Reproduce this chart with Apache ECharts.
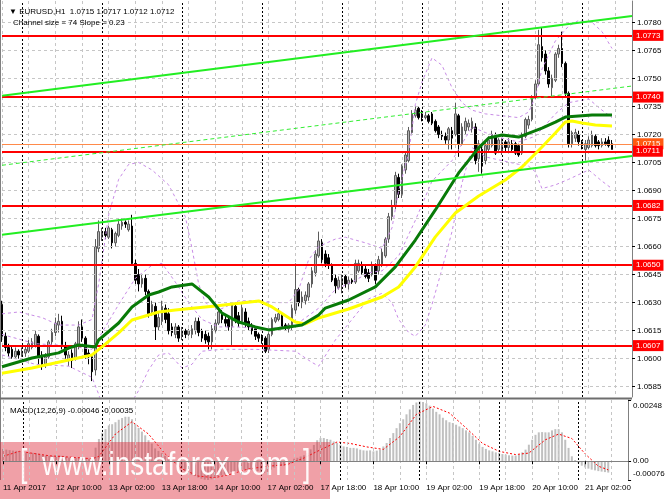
<!DOCTYPE html>
<html>
<head>
<meta charset="utf-8">
<title>EURUSD,H1</title>
<script src="https://cdn.jsdelivr.net/npm/echarts@6/dist/echarts.min.js"></script>
<style>
	html, body {
		margin: 0;
		padding: 0;
		background: #fff;
	}

	#chart {
		width: 665px;
		height: 499px;
	}
</style>
</head>

<body>
	<div id="chart"></div>
<script>
	// H1 bars from 11 Apr 18:00 to 21 Apr 09:00 (weekend skipped)
	var opens = [
		1.0629, 1.0612, 1.0606, 1.0605, 1.0601, 1.0604, 1.0602, 1.0603, 1.0604, 1.0606,
		1.0607, 1.0612, 1.0602, 1.0597, 1.0601, 1.0609, 1.0614, 1.0618, 1.0620, 1.0607,
		1.0600, 1.0603, 1.0600, 1.0607, 1.0617, 1.0611, 1.0603, 1.0601, 1.0594, 1.0659,
		1.0665, 1.0668, 1.0665, 1.0669, 1.0662, 1.0666, 1.0671, 1.0673, 1.0669, 1.0671,
		1.0651, 1.0645, 1.0640, 1.0643, 1.0636, 1.0625, 1.0628, 1.0617, 1.0620, 1.0627,
		1.0624, 1.0617, 1.0613, 1.0617, 1.0612, 1.0615, 1.0613, 1.0613, 1.0615, 1.0620,
		1.0615, 1.0613, 1.0612, 1.0609, 1.0615, 1.0619, 1.0624, 1.0621, 1.0621, 1.0617,
		1.0628, 1.0623, 1.0620, 1.0625, 1.0620, 1.0618, 1.0616, 1.0613, 1.0612, 1.0611,
		1.0605, 1.0613, 1.0620, 1.0621, 1.0623, 1.0618, 1.0616, 1.0617, 1.0626, 1.0637,
		1.0630, 1.0631, 1.0633, 1.0640, 1.0646, 1.0655, 1.0662, 1.0656, 1.0654, 1.0650,
		1.0643, 1.0638, 1.0640, 1.0644, 1.0640, 1.0642, 1.0641, 1.0647, 1.0650, 1.0648,
		1.0646, 1.0645, 1.0650, 1.0647, 1.0650, 1.0655, 1.0664, 1.0676, 1.0682, 1.0697,
		1.0688, 1.0701, 1.0706, 1.0721, 1.0730, 1.0734, 1.0731, 1.0729, 1.0730, 1.0731,
		1.0727, 1.0724, 1.0720, 1.0719, 1.0717, 1.0722, 1.0720, 1.0730, 1.0715, 1.0722,
		1.0724, 1.0723, 1.0724, 1.0707, 1.0712, 1.0706, 1.0712, 1.0714, 1.0719, 1.0712,
		1.0711, 1.0716, 1.0713, 1.0715, 1.0715, 1.0714, 1.0710, 1.0719, 1.0725, 1.0728,
		1.0740, 1.0747, 1.0767, 1.0763, 1.0754, 1.0745, 1.0749, 1.0763, 1.0766, 1.0758,
		1.0742, 1.0715, 1.0718, 1.0720, 1.0716, 1.0712, 1.0713, 1.0714, 1.0719, 1.0716,
		1.0714, 1.0716, 1.0717, 1.0715
	];
	var highs = [
		1.0631, 1.0614, 1.0608, 1.0607, 1.0606, 1.0605, 1.0606, 1.0607, 1.0610, 1.0611,
		1.0615, 1.0613, 1.0604, 1.0603, 1.0610, 1.0616, 1.0622, 1.0624, 1.0623, 1.0609,
		1.0604, 1.0605, 1.0609, 1.0620, 1.0621, 1.0612, 1.0605, 1.0602, 1.0664, 1.0674,
		1.0670, 1.0670, 1.0671, 1.0670, 1.0668, 1.0675, 1.0675, 1.0674, 1.0674, 1.0677,
		1.0653, 1.0648, 1.0645, 1.0645, 1.0637, 1.0631, 1.0630, 1.0625, 1.0631, 1.0629,
		1.0627, 1.0619, 1.0619, 1.0618, 1.0617, 1.0616, 1.0616, 1.0618, 1.0622, 1.0622,
		1.0616, 1.0615, 1.0614, 1.0618, 1.0621, 1.0628, 1.0626, 1.0623, 1.0622, 1.0630,
		1.0630, 1.0625, 1.0629, 1.0627, 1.0622, 1.0619, 1.0617, 1.0614, 1.0613, 1.0612,
		1.0614, 1.0622, 1.0624, 1.0627, 1.0624, 1.0619, 1.0619, 1.0629, 1.0651, 1.0638,
		1.0636, 1.0636, 1.0641, 1.0649, 1.0658, 1.0668, 1.0664, 1.0658, 1.0656, 1.0651,
		1.0645, 1.0644, 1.0645, 1.0645, 1.0644, 1.0643, 1.0653, 1.0653, 1.0652, 1.0650,
		1.0648, 1.0652, 1.0651, 1.0655, 1.0659, 1.0665, 1.0678, 1.0685, 1.0700, 1.0699,
		1.0704, 1.0711, 1.0724, 1.0733, 1.0735, 1.0735, 1.0733, 1.0732, 1.0731, 1.0732,
		1.0728, 1.0725, 1.0722, 1.0721, 1.0724, 1.0724, 1.0737, 1.0731, 1.0726, 1.0729,
		1.0728, 1.0729, 1.0726, 1.0717, 1.0714, 1.0716, 1.0719, 1.0722, 1.0721, 1.0718,
		1.0718, 1.0717, 1.0718, 1.0717, 1.0716, 1.0715, 1.0721, 1.0729, 1.0730, 1.0741,
		1.0749, 1.0776, 1.0777, 1.0765, 1.0756, 1.0752, 1.0764, 1.0768, 1.0775, 1.0759,
		1.0743, 1.0722, 1.0723, 1.0722, 1.0717, 1.0717, 1.0719, 1.0722, 1.0720, 1.0717,
		1.0718, 1.0718, 1.0719, 1.0717
	];
	var lows = [
		1.0609, 1.0604, 1.0601, 1.0600, 1.0600, 1.0600, 1.0601, 1.0601, 1.0603, 1.0605,
		1.0606, 1.0597, 1.0594, 1.0595, 1.0600, 1.0607, 1.0612, 1.0614, 1.0605, 1.0600,
		1.0596, 1.0595, 1.0599, 1.0605, 1.0609, 1.0600, 1.0597, 1.0588, 1.0591, 1.0657,
		1.0663, 1.0664, 1.0664, 1.0659, 1.0660, 1.0665, 1.0669, 1.0670, 1.0668, 1.0650,
		1.0640, 1.0636, 1.0638, 1.0634, 1.0622, 1.0623, 1.0610, 1.0615, 1.0618, 1.0619,
		1.0613, 1.0612, 1.0611, 1.0609, 1.0610, 1.0611, 1.0612, 1.0611, 1.0613, 1.0612,
		1.0609, 1.0608, 1.0605, 1.0605, 1.0614, 1.0618, 1.0619, 1.0617, 1.0615, 1.0607,
		1.0619, 1.0617, 1.0619, 1.0617, 1.0615, 1.0613, 1.0610, 1.0609, 1.0608, 1.0603,
		1.0603, 1.0612, 1.0619, 1.0620, 1.0616, 1.0615, 1.0614, 1.0615, 1.0624, 1.0628,
		1.0627, 1.0629, 1.0631, 1.0638, 1.0644, 1.0654, 1.0651, 1.0649, 1.0648, 1.0641,
		1.0635, 1.0637, 1.0635, 1.0638, 1.0637, 1.0640, 1.0640, 1.0646, 1.0645, 1.0643,
		1.0641, 1.0644, 1.0640, 1.0645, 1.0649, 1.0654, 1.0662, 1.0674, 1.0680, 1.0686,
		1.0686, 1.0699, 1.0705, 1.0720, 1.0729, 1.0728, 1.0727, 1.0728, 1.0726, 1.0725,
		1.0721, 1.0718, 1.0717, 1.0715, 1.0712, 1.0712, 1.0719, 1.0708, 1.0714, 1.0720,
		1.0722, 1.0721, 1.0704, 1.0700, 1.0699, 1.0704, 1.0711, 1.0713, 1.0709, 1.0710,
		1.0709, 1.0711, 1.0711, 1.0711, 1.0709, 1.0708, 1.0709, 1.0718, 1.0723, 1.0727,
		1.0739, 1.0746, 1.0759, 1.0752, 1.0745, 1.0740, 1.0748, 1.0761, 1.0756, 1.0740,
		1.0713, 1.0713, 1.0716, 1.0714, 1.0712, 1.0706, 1.0712, 1.0713, 1.0713, 1.0712,
		1.0713, 1.0714, 1.0713, 1.0712
	];
	var closes = [
		1.0612, 1.0606, 1.0603, 1.0601, 1.0604, 1.0602, 1.0604, 1.0605, 1.0608, 1.0609,
		1.0613, 1.0601, 1.0597, 1.0601, 1.0609, 1.0614, 1.0619, 1.0620, 1.0607, 1.0602,
		1.0602, 1.0599, 1.0608, 1.0617, 1.0611, 1.0602, 1.0601, 1.0593, 1.0660, 1.0668,
		1.0668, 1.0666, 1.0670, 1.0662, 1.0667, 1.0672, 1.0673, 1.0672, 1.0672, 1.0651,
		1.0642, 1.0640, 1.0643, 1.0636, 1.0624, 1.0629, 1.0617, 1.0622, 1.0628, 1.0621,
		1.0615, 1.0614, 1.0617, 1.0611, 1.0615, 1.0613, 1.0615, 1.0616, 1.0620, 1.0614,
		1.0611, 1.0610, 1.0609, 1.0616, 1.0619, 1.0625, 1.0621, 1.0619, 1.0617, 1.0629,
		1.0621, 1.0619, 1.0627, 1.0619, 1.0617, 1.0615, 1.0612, 1.0611, 1.0610, 1.0604,
		1.0613, 1.0621, 1.0622, 1.0624, 1.0617, 1.0617, 1.0618, 1.0627, 1.0637, 1.0630,
		1.0633, 1.0634, 1.0640, 1.0647, 1.0656, 1.0663, 1.0653, 1.0651, 1.0650, 1.0642,
		1.0639, 1.0642, 1.0643, 1.0640, 1.0642, 1.0641, 1.0651, 1.0651, 1.0646, 1.0644,
		1.0643, 1.0650, 1.0642, 1.0653, 1.0657, 1.0664, 1.0676, 1.0682, 1.0698, 1.0688,
		1.0703, 1.0709, 1.0722, 1.0731, 1.0733, 1.0729, 1.0729, 1.0730, 1.0727, 1.0726,
		1.0722, 1.0720, 1.0719, 1.0717, 1.0723, 1.0718, 1.0731, 1.0715, 1.0724, 1.0727,
		1.0726, 1.0727, 1.0706, 1.0715, 1.0703, 1.0714, 1.0717, 1.0720, 1.0710, 1.0717,
		1.0716, 1.0713, 1.0716, 1.0712, 1.0710, 1.0709, 1.0720, 1.0728, 1.0728, 1.0740,
		1.0747, 1.0768, 1.0761, 1.0754, 1.0747, 1.0750, 1.0763, 1.0766, 1.0758, 1.0742,
		1.0715, 1.0721, 1.0721, 1.0716, 1.0714, 1.0715, 1.0717, 1.0720, 1.0714, 1.0714,
		1.0716, 1.0715, 1.0714, 1.0712
	];

	// moving averages, read at a few bars
	var greenAt = [0, 9, 17, 20, 23, 28, 29, 35, 39, 44, 47, 51, 57, 62, 66, 71, 76, 80, 84, 90, 95, 97, 104, 112, 118, 124, 130, 137, 143, 146, 150, 155, 162, 166, 169, 177, 183];
	var greenMa = [1.05957, 1.06004, 1.06031, 1.06057, 1.06073, 1.06063, 1.06100, 1.06191, 1.06277, 1.06341, 1.06357, 1.06384, 1.06400, 1.06330, 1.06244, 1.06196, 1.06170, 1.06154, 1.06164, 1.06180, 1.06234, 1.06271, 1.06314, 1.06384, 1.06491, 1.06635, 1.06796, 1.06994, 1.07128, 1.07181, 1.07197, 1.07186, 1.07234, 1.07266, 1.07293, 1.07304, 1.07304];
	var yellowAt = [0, 9, 20, 27, 30, 35, 39, 44, 47, 52, 64, 77, 81, 88, 91, 95, 104, 114, 119, 124, 130, 136, 143, 151, 156, 162, 166, 169, 171, 174, 178, 183];
	var yellowMa = [1.05922, 1.05950, 1.05993, 1.06020, 1.06063, 1.06138, 1.06207, 1.06234, 1.06250, 1.06261, 1.06282, 1.06309, 1.06277, 1.06196, 1.06186, 1.06218, 1.06266, 1.06330, 1.06384, 1.06491, 1.06652, 1.06780, 1.06871, 1.06956, 1.07026, 1.07133, 1.07208, 1.07266, 1.07272, 1.07261, 1.07250, 1.07245];

	// bollinger bands
	var upperAt = [0, 5, 12, 17, 23, 27, 28, 29, 32, 35, 38, 41, 45, 50, 55, 57, 59, 61, 65, 71, 77, 82, 86, 89, 92, 95, 100, 103, 109, 114, 117, 119, 122, 124, 126, 129, 132, 135, 138, 141, 145, 150, 155, 158, 160, 162, 166, 170, 173, 177, 180, 183];
	var upperBand = [1.0624, 1.0625, 1.0622, 1.0618, 1.0618, 1.0621, 1.0631, 1.0640, 1.0677, 1.0696, 1.0704, 1.0705, 1.0701, 1.0693, 1.0676, 1.0659, 1.0640, 1.0630, 1.0626, 1.0631, 1.0631, 1.0630, 1.0630, 1.0637, 1.0653, 1.0660, 1.0664, 1.0665, 1.0662, 1.0659, 1.0670, 1.0690, 1.0710, 1.0736, 1.0748, 1.0761, 1.0757, 1.0745, 1.0737, 1.0733, 1.0731, 1.0730, 1.0729, 1.0732, 1.0740, 1.0755, 1.0770, 1.0778, 1.0781, 1.0780, 1.0775, 1.0766];
	var midAt = [0, 10, 20, 27, 30, 35, 40, 45, 48, 52, 56, 60, 65, 70, 80, 88, 95, 100, 105, 110, 114, 119, 124, 129, 135, 138, 141, 145, 150, 155, 160, 162, 166, 170, 176, 180, 183];
	var midBand = [1.0613, 1.0608, 1.0607, 1.0605, 1.0614, 1.0629, 1.0643, 1.0650, 1.0651, 1.0641, 1.0630, 1.0621, 1.0617, 1.0617, 1.0616, 1.0618, 1.0627, 1.0637, 1.0641, 1.0646, 1.0647, 1.0655, 1.0674, 1.0695, 1.0706, 1.0715, 1.0724, 1.0721, 1.0718, 1.0716, 1.0719, 1.0723, 1.0731, 1.0737, 1.0739, 1.0733, 1.0729];
	var lowerAt = [0, 10, 20, 27, 29, 32, 35, 38, 41, 44, 47, 50, 54, 57, 60, 66, 76, 88, 93, 95, 100, 105, 110, 114, 117, 119, 122, 124, 127, 129, 132, 135, 138, 141, 145, 150, 155, 158, 160, 162, 166, 170, 176, 180, 183];
	var lowerBand = [1.0602, 1.0597, 1.0596, 1.0590, 1.0581, 1.0563, 1.0562, 1.0574, 1.0583, 1.0594, 1.0602, 1.0603, 1.0595, 1.0597, 1.0604, 1.0605, 1.0605, 1.0604, 1.0598, 1.0596, 1.0610, 1.0621, 1.0632, 1.0635, 1.0630, 1.0621, 1.0614, 1.0612, 1.0618, 1.0629, 1.0648, 1.0668, 1.0694, 1.0713, 1.0708, 1.0706, 1.0704, 1.0703, 1.0700, 1.0691, 1.0693, 1.0696, 1.0701, 1.0695, 1.0691];

	// regression channel, first and last slot
	var channelAt = [0, 189];
	var chanUpper = [1.07407, 1.07834];
	var chanMid = [1.07035, 1.07459];
	var chanLower = [1.06663, 1.07085];

	// horizontal levels
	var redLevels = [1.0773, 1.0740, 1.0682, 1.0650, 1.0607];
	var bidLevel = 1.0715;
	var lowLevel = 1.0711;

	// MACD(12,26,9)
	var macd = [
		0.00050, 0.00047, 0.00045, 0.00043, 0.00042, 0.00040, 0.00038, 0.00036, 0.00035, 0.00034,
		0.00033, 0.00030, 0.00026, 0.00023, 0.00022, 0.00022, 0.00023, 0.00024, 0.00022, 0.00018,
		0.00015, 0.00013, 0.00013, 0.00016, 0.00016, 0.00013, 0.00010, 0.00006, 0.00055, 0.00090,
		0.00115, 0.00130, 0.00145, 0.00150, 0.00158, 0.00168, 0.00175, 0.00180, 0.00180, 0.00170,
		0.00152, 0.00135, 0.00120, 0.00105, 0.00085, 0.00072, 0.00052, 0.00042, 0.00033, 0.00022,
		0.00010, 0.00000, -0.00008, -0.00020, -0.00030, -0.00040, -0.00048, -0.00055, -0.00060, -0.00066,
		-0.00071, -0.00075, -0.00076, -0.00073, -0.00068, -0.00061, -0.00057, -0.00054, -0.00052, -0.00043,
		-0.00041, -0.00040, -0.00034, -0.00034, -0.00035, -0.00036, -0.00038, -0.00040, -0.00042, -0.00048,
		-0.00043, -0.00034, -0.00026, -0.00019, -0.00019, -0.00019, -0.00017, -0.00008, 0.00010, 0.00014,
		0.00019, 0.00024, 0.00034, 0.00048, 0.00066, 0.00085, 0.00094, 0.00094, 0.00090, 0.00087,
		0.00080, 0.00074, 0.00067, 0.00060, 0.00058, 0.00054, 0.00054, 0.00052, 0.00047, 0.00044,
		0.00043, 0.00044, 0.00040, 0.00043, 0.00047, 0.00060, 0.00074, 0.00094, 0.00114, 0.00134,
		0.00154, 0.00170, 0.00190, 0.00210, 0.00228, 0.00238, 0.00242, 0.00240, 0.00235, 0.00225,
		0.00213, 0.00200, 0.00190, 0.00176, 0.00166, 0.00158, 0.00155, 0.00148, 0.00141, 0.00134,
		0.00125, 0.00117, 0.00103, 0.00087, 0.00071, 0.00058, 0.00050, 0.00044, 0.00040, 0.00036,
		0.00034, 0.00029, 0.00027, 0.00024, 0.00023, 0.00023, 0.00027, 0.00036, 0.00047, 0.00067,
		0.00087, 0.00107, 0.00117, 0.00118, 0.00117, 0.00117, 0.00125, 0.00130, 0.00130, 0.00117,
		0.00087, 0.00054, 0.00020, 0.00005, -0.00008, -0.00018, -0.00025, -0.00030, -0.00034, -0.00037,
		-0.00040, -0.00042, -0.00044, -0.00046
	];
	var signalAt = [0, 5, 14, 22, 27, 29, 34, 39, 44, 49, 54, 59, 64, 69, 74, 79, 86, 91, 95, 101, 105, 110, 115, 120, 125, 130, 135, 140, 145, 150, 155, 159, 164, 168, 172, 176, 180, 183];
	var signal = [0.00020, 0.00040, 0.00022, 0.00015, 0.00010, 0.00020, 0.00110, 0.00160, 0.00110, 0.00030, -0.00030, -0.00060, -0.00067, -0.00052, -0.00032, -0.00022, -0.00013, 0.00013, 0.00040, 0.00078, 0.00072, 0.00058, 0.00048, 0.00100, 0.00190, 0.00222, 0.00195, 0.00135, 0.00072, 0.00040, 0.00027, 0.00033, 0.00087, 0.00110, 0.00092, 0.00030, -0.00020, -0.00035];

	// axis ticks
	var priceTicks = [1.0585, 1.0600, 1.0615, 1.0630, 1.0645, 1.0660, 1.0675, 1.0690, 1.0705, 1.0720, 1.0735, 1.0750, 1.0765, 1.0780];
	var macdTicks = [-0.00076, 0, 0.00248];
	var timeLabels = ['11 Apr 2017', '12 Apr 10:00', '13 Apr 02:00', '13 Apr 18:00', '14 Apr 10:00', '17 Apr 02:00', '17 Apr 18:00', '18 Apr 10:00', '19 Apr 02:00', '19 Apr 18:00', '20 Apr 10:00', '21 Apr 02:00'];
	var daySeps = [6, 30, 54, 78, 102, 126, 150, 174];

	var slots = [];
	for (var i = 0; i < 190; i++) slots.push(i);

	var candles = opens.map(function (o, i) {
		return [o, closes[i], lows[i], highs[i]];
	});

	function pairs(at, vals) {
		return at.map(function (x, k) { return [x, vals[k]]; });
	}
	function every(n) {
		return function (idx) { return idx % n === 0; };
	}

	var font = '"Liberation Sans", Arial, sans-serif';
	var small = { fontFamily: font, fontSize: 8, color: '#000' };
	var gridDash = { color: '#c6c6c6', type: [3, 3], width: 1 };
	var sepDash = { color: '#000', type: [2, 2], width: 1 };
	var headStyle = { fontFamily: font, fontSize: 8, fontWeight: 'normal', color: '#000' };

	var chart = echarts.init(document.getElementById('chart'));
	var option = {
		animation: false,
		backgroundColor: '#fff',
		title: [
			{ text: '\u25BC EURUSD,H1  1.0715 1.0717 1.0712 1.0712', left: 4, top: 3, textStyle: headStyle },
			{ text: 'Channel size = 74 Slope = 0.23', left: 8, top: 14, textStyle: headStyle },
			{ text: 'MACD(12,26,9) -0.00046 -0.00035', left: 5, top: 402, textStyle: headStyle },
			// lowest value of the MACD scale, sits just above the pane bottom
			{ text: macdTicks[0].toFixed(5), left: 633, top: 470, padding: 0, textStyle: headStyle }
		],
		grid: [
			{ left: 2, right: 33, top: 1, height: 396 },
			{ left: 2, right: 33, top: 400, height: 80 }
		],
		xAxis: [
			{
				type: 'category', gridIndex: 0, data: slots, boundaryGap: false,
				axisLine: { show: false }, axisTick: { show: false }, axisLabel: { show: false },
				splitLine: { show: true, interval: every(8), lineStyle: gridDash }
			},
			{
				type: 'category', gridIndex: 1, data: slots, boundaryGap: false, z: 120,
				axisLine: { show: true, lineStyle: { color: '#808080' } },
				axisTick: { show: true, interval: every(16), length: 3, lineStyle: { color: '#000' } },
				axisLabel: Object.assign({
					interval: every(16), align: 'left', margin: 4,
					formatter: function (v, idx) { return timeLabels[idx / 16] || ''; }
				}, small),
				splitLine: { show: true, interval: every(8), lineStyle: gridDash }
			}
		],
		yAxis: [
			{
				type: 'value', gridIndex: 0, position: 'right', min: 1.05795, max: 1.07914,
				splitLine: { show: false },
				axisLine: { show: true, lineStyle: { color: '#808080' } },
				axisTick: { show: true, customValues: priceTicks, length: 3, lineStyle: { color: '#000' } },
				axisLabel: Object.assign({
					customValues: priceTicks, margin: 5,
					formatter: function (v) { return v.toFixed(4); }
				}, small)
			},
			{
				type: 'value', gridIndex: 1, position: 'right', min: macdTicks[0], max: macdTicks[2],
				splitLine: { show: false },
				axisLine: { show: true, lineStyle: { color: '#808080' } },
				axisTick: { show: true, customValues: macdTicks, length: 3, lineStyle: { color: '#000' } },
				axisLabel: Object.assign({
					customValues: macdTicks.slice(1), margin: 2,
					formatter: function (v) {
						if (v > 0.001) return '{t|' + v.toFixed(5) + '}';
						return '{z|0.00}';
					},
					rich: {
						t: { fontFamily: font, fontSize: 8, color: '#000', padding: [11, 0, 0, 3] },
						z: { fontFamily: font, fontSize: 8, color: '#000', padding: [0, 0, 0, 3] }
					}
				}, small)
			}
		],
		series: [
			{
				// grid lines and day separators, main pane
				type: 'line', xAxisIndex: 0, yAxisIndex: 0, data: [], z: 1, silent: true,
				markLine: {
					symbol: ['none', 'none'], silent: true, precision: 5, label: { show: false },
					lineStyle: gridDash,
					data: priceTicks.map(function (v) { return { yAxis: v }; })
						.concat(daySeps.map(function (d) { return { xAxis: d, lineStyle: sepDash }; }))
				}
			},
			{
				type: 'candlestick', xAxisIndex: 0, yAxisIndex: 0, data: candles, z: 3,
				barWidth: 2,
				itemStyle: {
					color: '#b4b4b4', borderColor: '#5c5c5c',
					color0: '#000', borderColor0: '#000', borderWidth: 1
				}
			},
			{
				type: 'line', xAxisIndex: 0, yAxisIndex: 0, data: pairs(upperAt, upperBand), z: 4,
				showSymbol: false, lineStyle: { color: '#c88ce6', width: 1, type: [3, 3] }
			},
			{
				type: 'line', xAxisIndex: 0, yAxisIndex: 0, data: pairs(midAt, midBand), z: 4,
				showSymbol: false, lineStyle: { color: '#c88ce6', width: 1, type: [3, 3] }
			},
			{
				type: 'line', xAxisIndex: 0, yAxisIndex: 0, data: pairs(lowerAt, lowerBand), z: 4,
				showSymbol: false, lineStyle: { color: '#c88ce6', width: 1, type: [3, 3] }
			},
			{
				type: 'line', xAxisIndex: 0, yAxisIndex: 0, data: pairs(yellowAt, yellowMa), z: 5,
				showSymbol: false, lineStyle: { color: '#ffff00', width: 3 }
			},
			{
				type: 'line', xAxisIndex: 0, yAxisIndex: 0, data: pairs(greenAt, greenMa), z: 5,
				showSymbol: false, lineStyle: { color: '#087a08', width: 3 }
			},
			{
				type: 'line', xAxisIndex: 0, yAxisIndex: 0, data: pairs(channelAt, chanUpper), z: 6,
				showSymbol: false, lineStyle: { color: '#22ee22', width: 2 }
			},
			{
				type: 'line', xAxisIndex: 0, yAxisIndex: 0, data: pairs(channelAt, chanMid), z: 6,
				showSymbol: false, lineStyle: { color: '#33ee33', width: 1, type: [4, 3] }
			},
			{
				type: 'line', xAxisIndex: 0, yAxisIndex: 0, data: pairs(channelAt, chanLower), z: 6,
				showSymbol: false, lineStyle: { color: '#22ee22', width: 2 }
			},
			{
				// price levels with their tags on the price scale
				type: 'line', xAxisIndex: 0, yAxisIndex: 0, data: [], z: 8, silent: true,
				markLine: {
					symbol: ['none', 'none'], silent: true, precision: 5,
					lineStyle: { color: '#ff0000', width: 2, type: 'solid' },
					label: {
						show: true, position: 'end', distance: 1,
						color: '#fff', backgroundColor: '#ff0000', padding: [2, 3, 1, 3],
						fontFamily: font, fontSize: 8,
						formatter: function (p) { return Number(p.value).toFixed(4); }
					},
					data: redLevels.map(function (v) { return { yAxis: v }; })
						.concat([
							{ yAxis: bidLevel, lineStyle: { color: '#ff8a4a', width: 1 }, label: { backgroundColor: '#ff5a10' } },
							{ yAxis: lowLevel }
						])
				}
			},
			{
				type: 'bar', xAxisIndex: 1, yAxisIndex: 1, data: macd, z: 2,
				barWidth: 2, itemStyle: { color: '#c0c0c0' },
				markLine: {
					symbol: ['none', 'none'], silent: true, precision: 5, label: { show: false },
					lineStyle: gridDash,
					data: [{ yAxis: 0 }].concat(daySeps.map(function (d) { return { xAxis: d, lineStyle: sepDash }; }))
				}
			},
			{
				type: 'line', xAxisIndex: 1, yAxisIndex: 1, data: pairs(signalAt, signal), z: 3,
				showSymbol: false, lineStyle: { color: '#ff0000', width: 1, type: [2, 2] }
			}
		],
		graphic: [
			{ type: 'line', shape: { x1: 0.5, y1: 0, x2: 0.5, y2: 480 }, style: { stroke: '#808080', lineWidth: 1 }, z: 50 },
			{ type: 'line', shape: { x1: 0, y1: 398.5, x2: 632, y2: 398.5 }, style: { stroke: '#6e6e6e', lineWidth: 2 }, z: 50 },
			{ type: 'rect', shape: { x: 0, y: 442, width: 330, height: 57 }, style: { fill: 'rgba(222, 45, 60, 0.45)' }, z: 100 },
			{ type: 'text', x: 20, y: 447, scaleX: 0.7, style: { text: '[', font: 'normal 38px ' + font, fill: 'rgba(255,255,255,0.92)' }, z: 101 },
			{ type: 'text', x: 42, y: 449, scaleX: 0.82, style: { text: 'www.instaforex.com', font: 'normal 34px ' + font, fill: 'rgba(255,255,255,0.95)' }, z: 101 },
			{ type: 'text', x: 303, y: 447, scaleX: 0.7, style: { text: ']', font: 'normal 38px ' + font, fill: 'rgba(255,255,255,0.92)' }, z: 101 }
		]
	};
	chart.setOption(option);
</script>
</body>

</html>
